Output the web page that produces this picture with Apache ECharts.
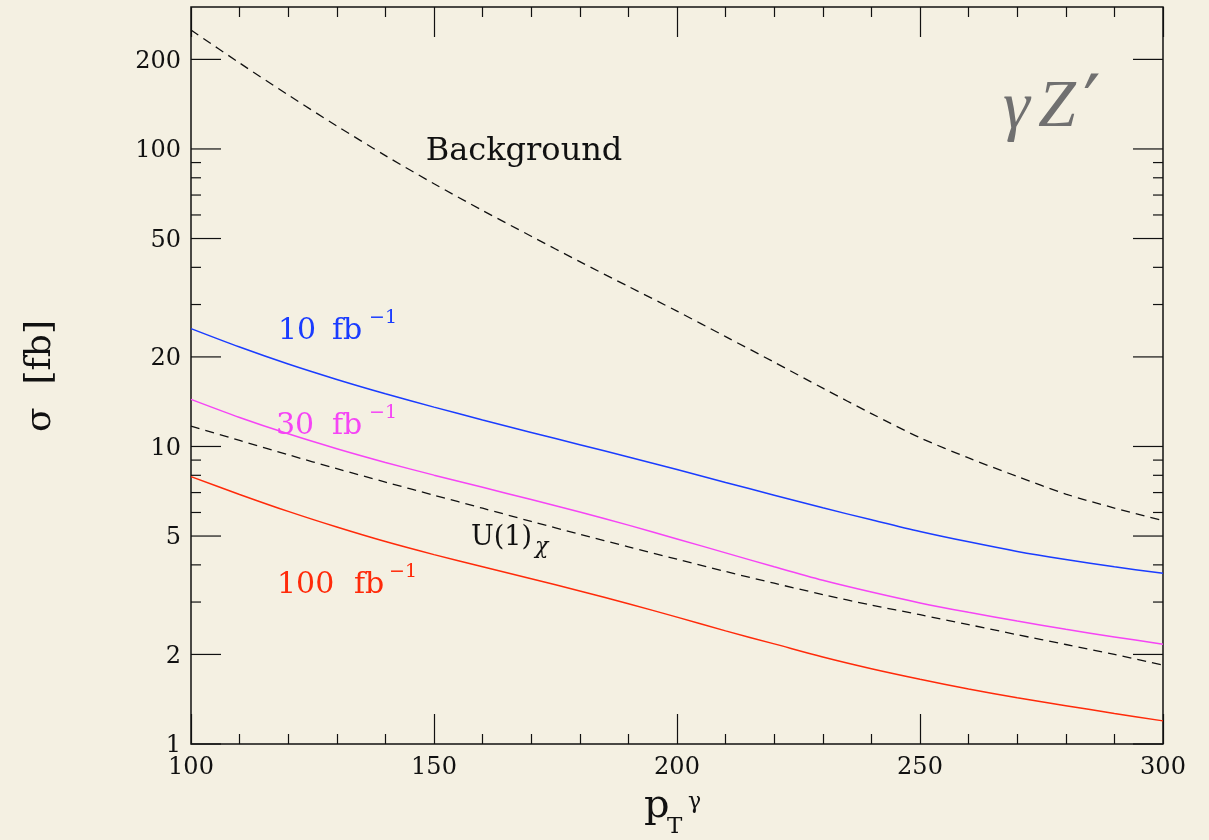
<!DOCTYPE html>
<html>
<head>
<meta charset="utf-8">
<title>γZ′ cross sections</title>
<script src="https://cdn.jsdelivr.net/npm/echarts@6/dist/echarts.min.js"></script>
<style>
  html, body { margin: 0; padding: 0; background: #f4f0e2; }
  #chart { width: 1209px; height: 840px; }
</style>
</head>
<body>
<div id="chart"></div>
<script>
// photon transverse momentum (GeV)
const pT = [100, 110, 120, 130, 140, 150, 160, 170, 180, 190, 200,
            210, 220, 230, 240, 250, 260, 270, 280, 290, 300];

// cross sections in fb
const sigmaBackground = [251, 194.5, 151.9, 119.5, 95.0, 76.4, 62.1, 50.9, 41.8, 34.5, 28.5,
                         23.4, 19.2, 15.7, 12.9, 10.7, 9.15, 7.93, 6.92, 6.21, 5.63];
const sigma10fb = [24.9, 21.59, 18.93, 16.80, 15.04, 13.56, 12.28, 11.15, 10.14, 9.22, 8.37,
                   7.57, 6.86, 6.22, 5.67, 5.18, 4.78, 4.44, 4.17, 3.94, 3.75];
const sigma30fb = [14.4, 12.52, 11.03, 9.83, 8.84, 8.01, 7.29, 6.63, 6.02, 5.44, 4.89,
                   4.39, 3.94, 3.55, 3.24, 2.98, 2.77, 2.59, 2.43, 2.29, 2.165];
const sigmaU1chi = [11.7, 10.48, 9.38, 8.42, 7.59, 6.86, 6.20, 5.60, 5.07, 4.60, 4.18,
                    3.80, 3.47, 3.18, 2.93, 2.72, 2.52, 2.33, 2.16, 2.00, 1.84];
const sigma100fb = [7.92, 6.90, 6.05, 5.36, 4.79, 4.33, 3.94, 3.59, 3.27, 2.96, 2.67,
                    2.40, 2.17, 1.96, 1.79, 1.65, 1.53, 1.43, 1.345, 1.267, 1.196];

// y-axis tick values (log scale)
const yMajorTicks = [1, 2, 5, 10, 20, 50, 100, 200];
const yMinorTicks = [3, 4, 6, 7, 8, 9, 30, 40, 60, 70, 80, 90];

const SERIF = '"DejaVu Serif", "Liberation Serif", serif';
const INK = '#111111';
const BLUE = '#1a3cff';
const MAGENTA = '#f545f5';
const RED = '#ff2a0a';
const GREY = '#707070';

const pairs = arr => pT.map((x, i) => [x, arr[i]]);

const yTickData = yMajorTicks.map(v => [100, v, 1]).concat(yMinorTicks.map(v => [100, v, 0]));

const chart = echarts.init(document.getElementById('chart'), null, { renderer: 'canvas' });

const xAxisCommon = {
  type: 'value',
  min: 100,
  max: 300,
  interval: 50,
  axisLine: { show: false },
  splitLine: { show: false },
  axisTick: { show: true, inside: true, length: 30, lineStyle: { color: INK, width: 1.2 } },
  minorTick: { show: true, splitNumber: 5, length: 10, lineStyle: { color: INK, width: 1.2 } },
  minorSplitLine: { show: false }
};

function lineSeries(name, values, color, dashed) {
  return {
    name: name,
    type: 'line',
    data: pairs(values),
    smooth: 0.3,
    showSymbol: false,
    silent: true,
    lineStyle: { color: color, width: dashed ? 1.3 : 1.5, type: dashed ? [9, 6] : 'solid' },
    z: 3
  };
}

chart.setOption({
  backgroundColor: '#f4f0e2',
  animation: false,
  grid: {
    left: 191, right: 46, top: 7, bottom: 96,
    show: true, borderColor: INK, borderWidth: 1.5, backgroundColor: 'transparent'
  },
  xAxis: [
    Object.assign({}, xAxisCommon, {
      position: 'bottom',
      axisLabel: {
        show: true, margin: 12, color: INK, fontSize: 24, fontFamily: SERIF,
        formatter: v => String(v)
      }
    }),
    Object.assign({}, xAxisCommon, {
      position: 'top',
      axisLabel: { show: false }
    })
  ],
  yAxis: {
    type: 'log',
    logBase: 10,
    min: 1,
    max: 300,
    axisLine: { show: false },
    axisTick: { show: false },
    axisLabel: { show: false },
    splitLine: { show: false }
  },
  series: [
    lineSeries('Background', sigmaBackground, INK, true),
    lineSeries('10 fb-1', sigma10fb, BLUE, false),
    lineSeries('30 fb-1', sigma30fb, MAGENTA, false),
    lineSeries('U(1)chi', sigmaU1chi, INK, true),
    lineSeries('100 fb-1', sigma100fb, RED, false),
    {
      // tick marks and labels of the logarithmic y axis, left and right frame
      type: 'custom',
      silent: true,
      clip: false,
      z: 5,
      data: yTickData,
      encode: { x: 0, y: 1 },
      renderItem: function (params, api) {
        const v = api.value(1);
        const major = api.value(2) === 1;
        const pL = api.coord([100, v]);
        const pR = api.coord([300, v]);
        const len = major ? 30 : 10;
        const children = [
          { type: 'line', shape: { x1: pL[0], y1: pL[1], x2: pL[0] + len, y2: pL[1] },
            style: { stroke: INK, lineWidth: 1.2 } },
          { type: 'line', shape: { x1: pR[0], y1: pR[1], x2: pR[0] - len, y2: pR[1] },
            style: { stroke: INK, lineWidth: 1.2 } }
        ];
        if (major) {
          children.push({
            type: 'text',
            style: {
              text: String(v), x: pL[0] - 10, y: pL[1] + 2,
              align: 'right', verticalAlign: 'middle',
              font: '24px ' + SERIF, fill: INK
            }
          });
        }
        return { type: 'group', children: children };
      }
    }
  ],
  graphic: [
    // axis titles
    { type: 'text', x: 41, y: 376, rotation: Math.PI / 2,
      style: { text: 'σ  [fb]', x: 0, y: 0, align: 'center', verticalAlign: 'middle',
               font: '36px ' + SERIF, fill: INK } },
    { type: 'text', style: { text: 'p', x: 644, y: 807, align: 'left', verticalAlign: 'middle',
               font: '40px ' + SERIF, fill: INK } },
    { type: 'text', style: { text: 'T', x: 667, y: 827, align: 'left', verticalAlign: 'middle',
               font: '23px ' + SERIF, fill: INK } },
    { type: 'text', style: { text: 'γ', x: 688, y: 802, align: 'left', verticalAlign: 'middle',
               font: '22px ' + SERIF, fill: INK } },

    // process label
    { type: 'text', style: { text: 'γ', x: 1003, y: 110, align: 'left', verticalAlign: 'middle',
               font: 'italic 68px "Liberation Serif", "DejaVu Serif", serif', fill: GREY } },
    { type: 'text', style: { text: 'Z', x: 1038, y: 108, align: 'left', verticalAlign: 'middle',
               font: 'italic 68px "Liberation Serif", "DejaVu Serif", serif', fill: GREY } },
    { type: 'text', style: { text: '′', x: 1083, y: 111, align: 'left', verticalAlign: 'middle',
               font: '78px "DejaVu Serif", serif', fill: GREY } },

    // curve labels
    { type: 'text', style: { text: 'Background', x: 524, y: 152, align: 'center', verticalAlign: 'middle',
               font: '32px ' + SERIF, fill: INK } },

    { type: 'text', style: { text: '10', x: 278, y: 331, align: 'left', verticalAlign: 'middle',
               font: '30px ' + SERIF, fill: BLUE } },
    { type: 'text', style: { text: 'fb', x: 332, y: 331, align: 'left', verticalAlign: 'middle',
               font: '30px ' + SERIF, fill: BLUE } },
    { type: 'text', style: { text: '−1', x: 369, y: 318, align: 'left', verticalAlign: 'middle',
               font: '19px ' + SERIF, fill: BLUE } },

    { type: 'text', style: { text: '30', x: 276, y: 426, align: 'left', verticalAlign: 'middle',
               font: '30px ' + SERIF, fill: MAGENTA } },
    { type: 'text', style: { text: 'fb', x: 332, y: 426, align: 'left', verticalAlign: 'middle',
               font: '30px ' + SERIF, fill: MAGENTA } },
    { type: 'text', style: { text: '−1', x: 369, y: 413, align: 'left', verticalAlign: 'middle',
               font: '19px ' + SERIF, fill: MAGENTA } },

    { type: 'text', style: { text: '100', x: 277, y: 585, align: 'left', verticalAlign: 'middle',
               font: '30px ' + SERIF, fill: RED } },
    { type: 'text', style: { text: 'fb', x: 354, y: 585, align: 'left', verticalAlign: 'middle',
               font: '30px ' + SERIF, fill: RED } },
    { type: 'text', style: { text: '−1', x: 389, y: 572, align: 'left', verticalAlign: 'middle',
               font: '19px ' + SERIF, fill: RED } },

    { type: 'text', style: { text: 'U(1)', x: 471, y: 538, align: 'left', verticalAlign: 'middle',
               font: '27px ' + SERIF, fill: INK } },
    { type: 'text', style: { text: 'χ', x: 535, y: 547, align: 'left', verticalAlign: 'middle',
               font: 'italic 22px ' + SERIF, fill: INK } }
  ]
});
</script>
</body>
</html>
